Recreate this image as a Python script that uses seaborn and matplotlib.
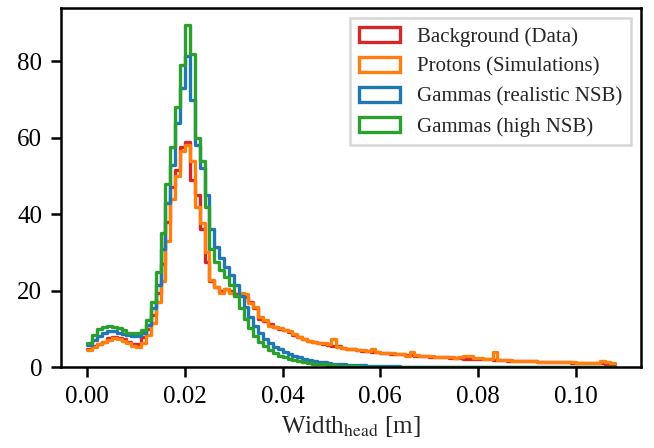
import numpy as np
import pandas as pd
import matplotlib
matplotlib.use("Agg")
import matplotlib.pyplot as plt
from matplotlib.patches import Patch
import seaborn as sns

# ==========================
# Data (histogram densities, bin width 0.001 m)
# ==========================
bin_width = 0.001
n_bins = 108

background = [
    4.6, 5.5, 6.1, 6.5, 7.6, 7.9, 7.6, 7.2, 6.6, 6.1,
    6.1, 7.9, 10.0, 13.5, 19.5, 27.0, 38.0, 47.0, 51.5, 57.5,
    58.8, 49.0, 45.0, 36.0, 27.5, 22.5, 21.0, 20.0, 20.5, 19.8,
    19.0, 18.8, 18.2, 17.0, 15.5, 12.5, 12.0, 11.2, 10.5, 10.0,
    9.6, 9.1, 8.4, 7.8, 7.3, 6.8, 6.5, 6.2, 6.0, 5.8,
    5.6, 5.4, 5.0, 4.8, 4.6, 4.4, 4.3, 4.2, 4.0, 3.9,
    3.7, 3.6, 3.5, 3.4, 3.3, 3.2, 3.1, 3.0, 2.9, 2.8,
    2.7, 2.7, 2.6, 2.5, 2.4, 2.3, 2.3, 2.2, 2.2, 2.1,
    2.1, 2.0, 2.0, 1.9, 1.9, 1.8, 1.7, 1.7, 1.6, 1.6,
    1.5, 1.5, 1.4, 1.4, 1.3, 1.3, 1.3, 1.2, 1.2, 1.1,
    1.1, 1.1, 1.0, 1.0, 1.0, 1.0, 0.9, 0.8,
]

protons = [
    4.5, 5.3, 6.0, 6.6, 7.0, 7.5, 7.4, 6.8, 6.4, 5.5,
    5.3, 6.2, 8.3, 11.5, 17.0, 22.5, 33.0, 44.0, 50.0, 56.5,
    58.2, 54.0, 42.0, 37.8, 30.0, 22.8, 21.0, 19.4, 20.5, 19.4,
    18.5, 19.4, 19.0, 16.8, 15.8, 13.0, 12.3, 10.8, 10.5, 10.2,
    9.8, 9.3, 8.6, 7.8, 7.3, 6.8, 6.5, 6.3, 6.2, 6.0,
    7.2, 5.3, 5.0, 4.8, 4.6, 4.5, 4.4, 4.3, 4.6, 3.8,
    3.7, 3.6, 3.6, 3.5, 3.4, 2.8, 3.9, 3.1, 2.9, 2.8,
    2.8, 2.7, 2.6, 2.5, 2.5, 2.4, 2.5, 3.0, 2.8, 2.4,
    2.3, 2.2, 2.2, 3.8, 1.9, 1.8, 1.8, 1.7, 1.7, 1.6,
    1.5, 1.5, 1.4, 1.4, 1.4, 1.3, 1.3, 1.2, 1.2, 1.2,
    1.1, 1.1, 1.1, 1.0, 1.1, 1.5, 1.3, 1.0,
]

gammas_realistic = [
    5.8, 7.0, 8.0, 8.8, 9.3, 9.3, 9.0, 8.7, 8.4, 8.1,
    8.0, 8.8, 11.0, 15.5, 21.5, 31.0, 43.0, 53.0, 64.0, 73.0,
    81.5, 70.0, 58.0, 52.0, 45.0, 36.0, 31.5, 28.5, 26.3, 24.0,
    21.5, 18.5, 15.8, 13.2, 10.8, 8.9, 7.4, 6.2, 5.3, 4.6,
    4.0, 3.4, 2.9, 2.5, 2.1, 1.8, 1.6, 1.4, 1.2, 1.0,
    0.9, 0.8, 0.7, 0.6, 0.5, 0.45, 0.4, 0.35, 0.3, 0.25,
    0.22, 0.2, 0.18, 0.15, 0.13, 0.12, 0.1, 0.1, 0.09, 0.08,
    0.08, 0.07, 0.07, 0.06, 0.06, 0.05, 0.05, 0.05, 0.04, 0.04,
    0.04, 0.04, 0.03, 0.03, 0.03, 0.03, 0.03, 0.03, 0.02, 0.02,
    0.02, 0.02, 0.02, 0.02, 0.02, 0.02, 0.02, 0.02, 0.02, 0.02,
    0.02, 0.02, 0.02, 0.02, 0.02, 0.02, 0.02, 0.02,
]

gammas_high = [
    6.4, 8.5, 10.0, 10.5, 10.8, 10.6, 10.2, 9.6, 9.0, 8.9,
    8.8, 9.7, 12.3, 17.0, 25.0, 35.0, 48.0, 57.5, 68.0, 79.0,
    89.5, 82.0, 60.0, 54.0, 42.0, 31.0, 27.5, 25.5, 23.5, 21.5,
    18.5, 15.5, 12.5, 10.2, 8.2, 6.6, 5.4, 4.5, 3.7, 3.0,
    2.5, 2.1, 1.8, 1.5, 1.2, 1.0, 0.9, 0.8, 0.7, 0.5,
    0.4, 0.35, 0.3, 0.25, 0.2, 0.15, 0.12, 0.1, 0.08, 0.07,
    0.06, 0.05, 0.05, 0.04, 0.04, 0.03, 0.03, 0.03, 0.02, 0.02,
    0.02, 0.02, 0.02, 0.02, 0.01, 0.01, 0.01, 0.01, 0.01, 0.01,
    0.01, 0.01, 0.01, 0.01, 0.01, 0.01, 0.01, 0.01, 0.01, 0.01,
    0.01, 0.01, 0.01, 0.01, 0.01, 0.01, 0.01, 0.01, 0.01, 0.01,
    0.01, 0.01, 0.01, 0.01, 0.01, 0.01, 0.01, 0.01,
]

labels = [
    "Background (Data)",
    "Protons (Simulations)",
    "Gammas (realistic NSB)",
    "Gammas (high NSB)",
]
colors = ["#d62728", "#ff7f0e", "#1f77b4", "#2ca02c"]

x_max = n_bins * bin_width
centers = (np.arange(n_bins) + 0.5) * bin_width

# ==========================
# Style
# ==========================
sns.set_style("ticks")
plt.rcParams["font.family"] = ["Liberation Serif", "DejaVu Serif"]
plt.rcParams["mathtext.fontset"] = "stix"
plt.rcParams["font.size"] = 10
plt.rcParams["xtick.labelsize"] = 12
plt.rcParams["ytick.labelsize"] = 12
plt.rcParams["axes.labelsize"] = 12
plt.rcParams["axes.linewidth"] = 1.2
plt.rcParams["xtick.major.width"] = 1.2
plt.rcParams["ytick.major.width"] = 1.2
plt.rcParams["xtick.major.size"] = 5
plt.rcParams["ytick.major.size"] = 5
plt.rcParams["xtick.major.pad"] = 4
plt.rcParams["ytick.major.pad"] = 4
plt.rcParams["axes.edgecolor"] = "black"
plt.rcParams["xtick.color"] = "black"
plt.rcParams["ytick.color"] = "black"

# ==========================
# Plot
# ==========================
fig = plt.figure(figsize=(655 / 150, 448 / 150), dpi=150)
ax = fig.add_axes([0.0931, 0.1808, 0.8855, 0.8013])

series = [background, protons, gammas_realistic, gammas_high]
for values, color in zip(series, colors):
    df = pd.DataFrame({"width": centers, "density": values})
    sns.histplot(
        data=df,
        x="width",
        weights="density",
        bins=n_bins,
        binrange=(0, x_max),
        element="step",
        fill=False,
        color=color,
        linewidth=1.6,
        ax=ax,
    )

ax.set_ylabel("")
ax.set_xlabel(r"Width$_{\mathrm{head}}$ [m]", labelpad=3)
ax.set_yticks([0, 20, 40, 60, 80])
ax.set_xticks([0.0, 0.02, 0.04, 0.06, 0.08, 0.10])
ax.set_xticklabels(["0.00", "0.02", "0.04", "0.06", "0.08", "0.10"])

handles = [
    Patch(facecolor="none", edgecolor=c, linewidth=1.6, label=l)
    for c, l in zip(colors, labels)
]
leg = ax.legend(handles=handles, loc="upper right", frameon=True,
                fancybox=False, fontsize=10)
leg.get_frame().set_edgecolor("0.8")
leg.get_frame().set_linewidth(1.2)

fig.savefig("out.png", dpi=150)
